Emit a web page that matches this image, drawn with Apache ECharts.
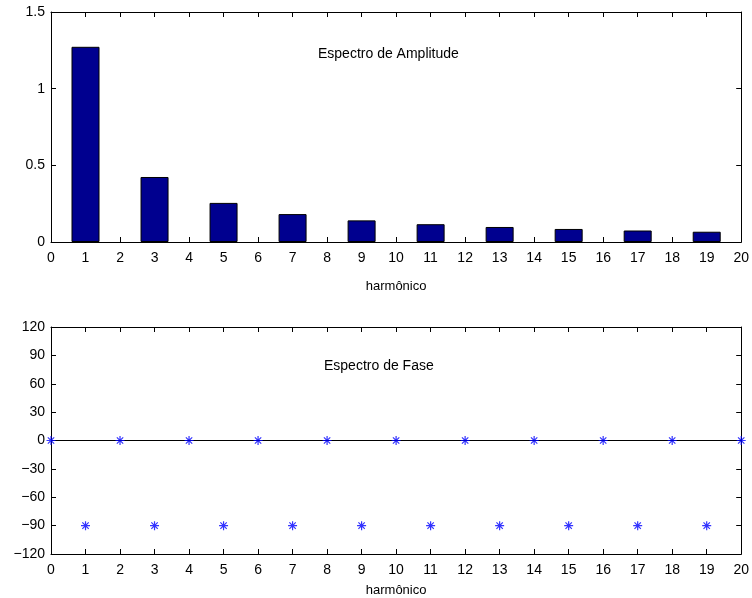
<!DOCTYPE html>
<html>
<head>
<meta charset="utf-8">
<script src="https://cdn.jsdelivr.net/npm/echarts@6/dist/echarts.min.js"></script>
<style>html,body{margin:0;padding:0;background:#fff}#c{width:752px;height:598px}</style>
</head>
<body>
<div id="c"></div>
<script>
// Amplitude spectrum (odd harmonics)
var ampHarmonics = [1, 3, 5, 7, 9, 11, 13, 15, 17, 19];
var ampValues = [1.273, 0.424, 0.255, 0.182, 0.141, 0.116, 0.098, 0.085, 0.075, 0.067];
// Phase spectrum
var phaseHarmonics = [0, 1, 2, 3, 4, 5, 6, 7, 8, 9, 10, 11, 12, 13, 14, 15, 16, 17, 18, 19, 20];
var phaseValues = [0, -90, 0, -90, 0, -90, 0, -90, 0, -90, 0, -90, 0, -90, 0, -90, 0, -90, 0, -90, 0];
var xLabel = 'harmônico';
var titleAmp = 'Espectro de Amplitude';
var titlePhase = 'Espectro de Fase';

var FONT = 'Liberation Sans, Arial, sans-serif';
var chart = echarts.init(document.getElementById('c'), null, {renderer: 'canvas'});

function fmt(v) { return String(v).replace('-', '\u2212'); }

function xMain(gi, gap) {
  return {
    type: 'value', gridIndex: gi, min: 0, max: 20, interval: 1, position: 'bottom',
    axisLine: {show: true, onZero: false, lineStyle: {color: '#000', width: 1}},
    axisTick: {show: true, inside: true, length: 5, lineStyle: {color: '#000'}},
    axisLabel: {show: true, color: '#000', fontFamily: FONT, fontSize: 14, margin: 9, showMinLabel: true, showMaxLabel: true},
    splitLine: {show: false},
    name: xLabel, nameLocation: 'middle', nameGap: gap,
    nameTextStyle: {color: '#000', fontFamily: FONT, fontSize: 13}
  };
}
function xTop(gi) {
  return {
    type: 'value', gridIndex: gi, min: 0, max: 20, interval: 1, position: 'top',
    axisLine: {show: true, onZero: false, lineStyle: {color: '#000', width: 1}},
    axisTick: {show: true, inside: true, length: 5, lineStyle: {color: '#000'}},
    axisLabel: {show: false}, splitLine: {show: false}
  };
}
function yLeft(gi, min, max, iv) {
  return {
    type: 'value', gridIndex: gi, min: min, max: max, interval: iv, position: 'left',
    axisLine: {show: true, onZero: false, lineStyle: {color: '#000', width: 1}},
    axisTick: {show: true, inside: true, length: 5, lineStyle: {color: '#000'}},
    axisLabel: {show: true, color: '#000', fontFamily: FONT, fontSize: 14, margin: 6, formatter: fmt, showMinLabel: true, showMaxLabel: true},
    splitLine: {show: false}
  };
}
function yRight(gi, min, max, iv) {
  return {
    type: 'value', gridIndex: gi, min: min, max: max, interval: iv, position: 'right',
    axisLine: {show: true, onZero: false, lineStyle: {color: '#000', width: 1}},
    axisTick: {show: true, inside: true, length: 5, lineStyle: {color: '#000'}},
    axisLabel: {show: false}, splitLine: {show: false}
  };
}

var star = 'path://M0,-4L0,4M-4,0L4,0M-2.83,-2.83L2.83,2.83M-2.83,2.83L2.83,-2.83';

var option = {
  animation: false,
  backgroundColor: '#fff',
  grid: [
    {left: 51, top: 12, width: 692, height: 230, containLabel: false},
    {left: 51, top: 327, width: 692, height: 231, containLabel: false}
  ],
  xAxis: [xMain(0, 38), xTop(0), xMain(1, 30), xTop(1)],
  yAxis: [yLeft(0, 0, 1.5, 0.5), yRight(0, 0, 1.5, 0.5), yLeft(1, -120, 120, 30), yRight(1, -120, 120, 30)],
  graphic: [
    {type: 'text', left: 318, top: 47, style: {text: titleAmp, fill: '#000', font: '14px ' + FONT}},
    {type: 'text', left: 324, top: 359, style: {text: titlePhase, fill: '#000', font: '14px ' + FONT}}
  ],
  series: [
    {
      type: 'bar', xAxisIndex: 0, yAxisIndex: 0, barWidth: 28,
      data: ampHarmonics.map(function (h, i) { return [h, ampValues[i]]; }),
      itemStyle: {color: '#00008f', borderColor: '#000', borderWidth: 1}
    },
    {
      type: 'scatter', xAxisIndex: 2, yAxisIndex: 2,
      symbol: star, symbolSize: 9,
      itemStyle: {color: 'none', borderColor: '#0000ff', borderWidth: 1.2},
      data: phaseHarmonics.map(function (h, i) { return [h, phaseValues[i]]; }),
      markLine: {
        silent: true, symbol: ['none', 'none'], label: {show: false},
        lineStyle: {color: '#000', width: 1, type: 'solid'},
        data: [{yAxis: 0}]
      },
      z: 5
    }
  ]
};
chart.setOption(option);
</script>
</body>
</html>
